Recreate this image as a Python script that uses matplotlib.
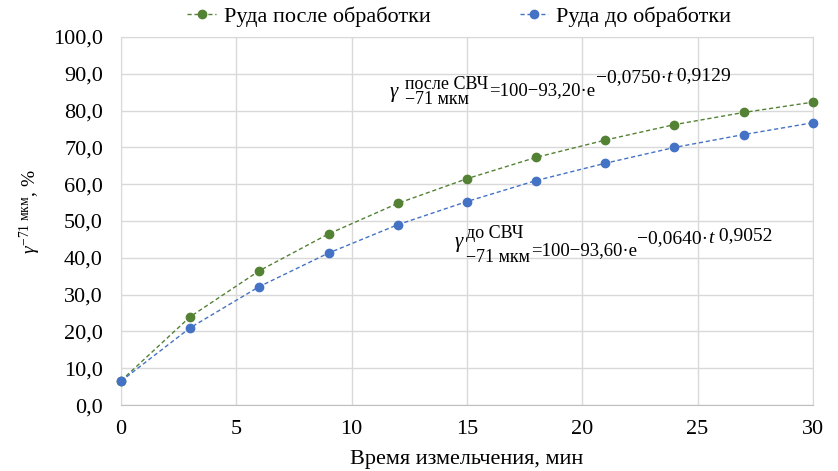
import matplotlib
matplotlib.use('Agg')
import matplotlib.pyplot as plt
from matplotlib.transforms import offset_copy

plt.rcParams['font.family'] = ['Liberation Serif', 'DejaVu Serif']
plt.rcParams['mathtext.fontset'] = 'custom'
plt.rcParams['mathtext.rm'] = 'Liberation Serif'
plt.rcParams['mathtext.it'] = 'Liberation Serif:italic'
plt.rcParams['mathtext.bf'] = 'Liberation Serif:bold'

t = [0, 3, 6, 9, 12, 15, 18, 21, 24, 27, 30]
after = [6.6, 24.0, 36.5, 46.5, 54.8, 61.5, 67.3, 72.0, 76.2, 79.5, 82.3]
before = [6.5, 21.0, 32.2, 41.3, 49.0, 55.3, 61.0, 65.7, 70.0, 73.5, 76.7]
x_ticks = [0, 5, 10, 15, 20, 25, 30]
y_ticks = [0, 10, 20, 30, 40, 50, 60, 70, 80, 90, 100]
y_labels = ['0,0', '10,0', '20,0', '30,0', '40,0', '50,0', '60,0', '70,0', '80,0', '90,0', '100,0']

green = '#548235'
blue = '#4472C4'

fig = plt.figure(figsize=(8.38, 4.71), dpi=100)
ax = fig.add_axes([0.1444, 0.140, 0.8256, 0.7814])

ax.plot(t, after, '--o', color=green, lw=1.0, ms=6, dashes=(3, 2), label='Руда после обработки', clip_on=False, zorder=3)
ax.plot(t, before, '--o', color=blue, lw=1.0, ms=6, dashes=(3, 2), label='Руда до обработки', clip_on=False, zorder=3)

ax.set_xlim(0, 30)
ax.set_ylim(0, 100)
ax.set_xticks(x_ticks)
ax.set_yticks(y_ticks)
ax.set_yticklabels(y_labels)
ax.tick_params(length=0, labelsize=16)
ax.tick_params(axis='y', pad=13)
ax.tick_params(axis='x', pad=11)
ax.grid(True, color='#d9d9d9', lw=1.0)
ax.set_axisbelow(True)
for s in ax.spines.values():
    s.set_color('#d9d9d9')
ax.spines['bottom'].set_color('#bfbfbf')

ax.set_xlabel('Время измельчения, мин', fontsize=16, labelpad=8)
ax.set_ylabel(r'$\gamma^{-71\ \mathrm{мкм}}$, %', fontsize=14)
ax.yaxis.set_label_coords(-0.113, 0.526)


def equation(x, y, groups):
    # pieces placed one after another, offsets in pixels from the start point;
    # each group: (gap before it in px, [(text, size, dy px, style), ...])
    renderer = fig.canvas.get_renderer()
    dx = 0
    for gap, items in groups:
        dx += gap
        w = 0
        for txt, size, dy, style in items:
            tr = offset_copy(ax.transData, fig=fig, x=dx, y=dy, units='dots')
            obj = ax.text(x, y, txt, fontsize=size, style=style, transform=tr,
                          ha='left', va='baseline')
            w = max(w, obj.get_window_extent(renderer).width)
        dx += w


equation(11.66, 84.24, [
    (0, [('γ', 15, -2, 'italic')]),
    (7, [('после СВЧ', 13, 6, 'normal'), ('−71 мкм', 13, -9, 'normal')]),
    (1, [('=100−93,20·e', 13.5, 0, 'normal')]),
    (0, [('−0,0750·', 14, 13, 'normal')]),
    (0, [('t', 14, 13, 'italic')]),
    (0, [(' 0,9129', 14, 15, 'normal')]),
])
equation(14.48, 40.76, [
    (0, [('γ', 15, 8, 'italic')]),
    (3, [('до СВЧ', 13, 17, 'normal'), ('−71 мкм', 13, -7, 'normal')]),
    (1, [('=100−93,60·e', 13.5, 0, 'normal')]),
    (0, [('−0,0640·', 14, 12, 'normal')]),
    (0, [('t', 14, 12, 'italic')]),
    (0, [(' 0,9052', 14, 15, 'normal')]),
])

fig.legend(loc='center', bbox_to_anchor=(0.548, 0.964), ncol=2, frameon=False, fontsize=16,
           handlelength=1.3, handletextpad=0.35, columnspacing=4.0)

fig.savefig('out.png', dpi=100)
